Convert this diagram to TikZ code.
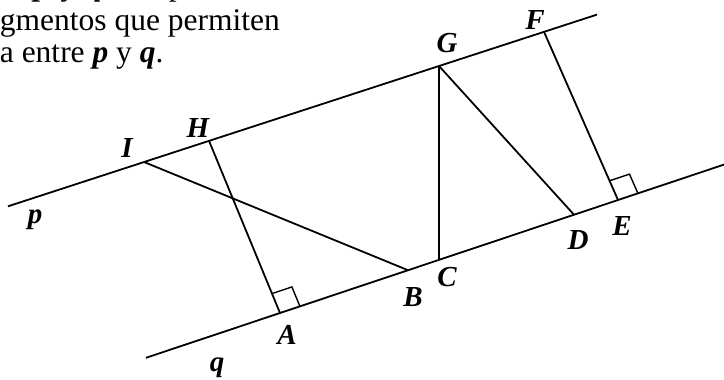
\documentclass[tikz,border=0pt]{standalone}
\usepackage{fontspec}
\setmainfont{Liberation Serif}
\usetikzlibrary{calc}

\begin{document}
\begin{tikzpicture}[x=1pt,y=-1pt,line width=1.8pt,
    lbl/.style={font=\fontsize{29}{29}\selectfont\bfseries\itshape,inner sep=0pt},
    txt/.style={font=\fontsize{31.5}{32}\selectfont,inner sep=0pt,anchor=base west}]
  \useasboundingbox (0,0) rectangle (724,380);
  \clip (0,0) rectangle (724,380);
  % puntos sobre p y q
  \foreach \n/\x/\y in {p0/8/206.3,I/144/162,H/209/140.8,G/439/66,F/544/31.8,p1/597/14.6}
    \coordinate (\n) at (\x,\y);
  \foreach \n/\x/\y in {q0/146/357.8,A/280/313,B/408/270.2,C/439/259.8,D/574/214.7,E/618/200,q1/724/164.6}
    \coordinate (\n) at (\x,\y);
  \draw (p0) -- (p1);
  \draw (q0) -- (q1);
  \foreach \a/\b in {I/B,H/A,G/C,G/D,F/E}
    \draw (\a) -- (\b);
  % angulos rectos
  \foreach \v/\u/\w in {A/H/E,E/F/q1}{
    \coordinate (\v1) at ($(\v)!21pt!(\u)$);
    \coordinate (\v2) at ($(\v)!21pt!(\w)$);
    \draw[line width=1.4pt] (\v1) -- ($(\v1)+(\v2)-(\v)$) -- (\v2);
  }
  % letras
  \foreach \n/\x/\y in {I/127/148,H/198/128,G/447/43,F/535/20,A/287/335,B/413/297,C/447/277,D/578/240,E/622/226,p/35/220,q/217/368}
    \node[lbl] (l\n) at (\x,\y) {\n};
  % enunciado (cortado)
  \node[txt] (t1) at (33,-5) {\spaceskip=11pt plus 1pt\relax\textbf{\textit{p}} y \textbf{\textit{q}} son paralelas};
  \node[txt] (t2) at (-1,30.5) {gmentos que permiten};
  \node[txt] (t3) at (-1,63) {a entre \textbf{\textit{p}} y \textbf{\textit{q}}.};
\end{tikzpicture}
\end{document}
